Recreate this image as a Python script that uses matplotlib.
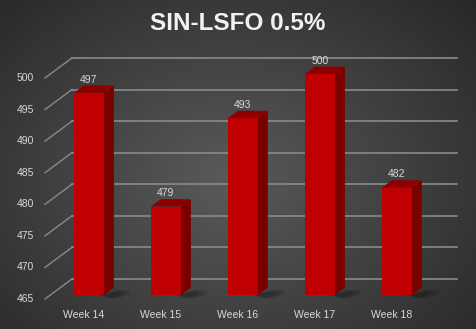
import numpy as np
import matplotlib
matplotlib.use("Agg")
from matplotlib import pyplot as plt
from matplotlib.patches import Polygon

weeks = ["Week 14", "Week 15", "Week 16", "Week 17", "Week 18"]
prices = [497, 479, 493, 500, 482]
y_ticks = [465, 470, 475, 480, 485, 490, 495, 500]
titulo = "SIN-LSFO 0.5%"

# pseudo 3d: deslocamento da parede de fundo (em unidades dos eixos)
DX = 0.35
DV = 3.17
z_frente = 0.2
z_tras = 0.57
meia_larg = 0.195
base = 465

cor_frente = "#c00000"
cor_lado = "#7a0000"
cor_topo = "#8e0000"
cor_grelha = "#8a8a8a"
cor_texto = "#d9d9d9"

plt.rcParams['font.family'] = ['Liberation Sans', 'DejaVu Sans']

fig = plt.figure(figsize=(4.76, 3.29), dpi=100)

# fundo com gradiente radial
fundo = fig.add_axes([0, 0, 1, 1])
fundo.set_axis_off()
xx, yy = np.meshgrid(np.linspace(0, 1, 476), np.linspace(0, 1, 329))
r = np.sqrt(((xx - 0.48) / 0.75) ** 2 + ((yy - 0.55) / 0.85) ** 2)
r = np.clip(r, 0, 1)
claro = np.array([0x5a, 0x5a, 0x5a]) / 255
escuro = np.array([0x25, 0x25, 0x25]) / 255
img = claro[None, None, :] * (1 - r[..., None]) + escuro[None, None, :] * r[..., None]
fundo.imshow(img, extent=[0, 1, 0, 1], aspect='auto', origin='upper')
fundo.set_xlim(0, 1)
fundo.set_ylim(0, 1)

ax = fig.add_axes([45 / 476, 30 / 329, 385 / 476, 221 / 329])
ax.set_xlim(-0.5, 4.5)
ax.set_ylim(465, 500)
ax.set_axis_off()
ax.patch.set_alpha(0)

# grelha: diagonais na parede lateral e linhas horizontais no fundo
for t in y_ticks:
    ax.plot([-0.5, -0.5 + DX], [t, t + DV], color=cor_grelha, lw=1.0, clip_on=False, zorder=1)
    ax.plot([-0.5 + DX, 4.5 + DX], [t + DV, t + DV], color=cor_grelha, lw=1.2, clip_on=False, zorder=1)
    ax.text(-0.643, t, str(t), ha='right', va='center', color=cor_texto, fontsize=7.5, clip_on=False)

for i, (semana, v) in enumerate(zip(weeks, prices)):
    xl0 = i - meia_larg + z_frente * DX
    xr0 = i + meia_larg + z_frente * DX
    xl1 = i - meia_larg + z_tras * DX
    xr1 = i + meia_larg + z_tras * DX
    b0 = base + z_frente * DV
    b1 = base + z_tras * DV
    t0 = v + z_frente * DV
    t1 = v + z_tras * DV

    # sombra no chao
    for k, a in enumerate([0.10, 0.10, 0.12]):
        e = 0.06 * (3 - k)
        sombra = Polygon([(xr0 - 0.05, b0), (xr1 + e, b1 - 0.3), (xr1 + e + 0.05, b1 - 1.0), (xr0 + e, b0 - 0.6)],
                         closed=True, facecolor="black", alpha=a, edgecolor='none', zorder=2, clip_on=False)
        ax.add_patch(sombra)

    lado = Polygon([(xr0, b0), (xr0, t0), (xr1, t1), (xr1, b1)], closed=True,
                   facecolor=cor_lado, edgecolor='none', zorder=3, clip_on=False)
    topo = Polygon([(xl0, t0), (xr0, t0), (xr1, t1), (xl1, t1)], closed=True,
                   facecolor=cor_topo, edgecolor='none', zorder=3, clip_on=False)
    frente = Polygon([(xl0, b0), (xr0, b0), (xr0, t0), (xl0, t0)], closed=True,
                     facecolor=cor_frente, edgecolor='none', zorder=4, clip_on=False)
    ax.add_patch(lado)
    ax.add_patch(topo)
    ax.add_patch(frente)

    ax.text(i + z_frente * DX, t1 + 0.95, str(v), ha='center', va='center',
            color=cor_texto, fontsize=7.5, zorder=5, clip_on=False)
    ax.text(i, 462.5, semana, ha='center', va='center', color=cor_texto,
            fontsize=7.5, clip_on=False)

fig.text(0.5, 1 - 24 / 329, titulo, ha='center', va='center', color="#f2f2f2",
         fontsize=17.5, fontweight='bold')

fig.savefig("out.png", dpi=100)
